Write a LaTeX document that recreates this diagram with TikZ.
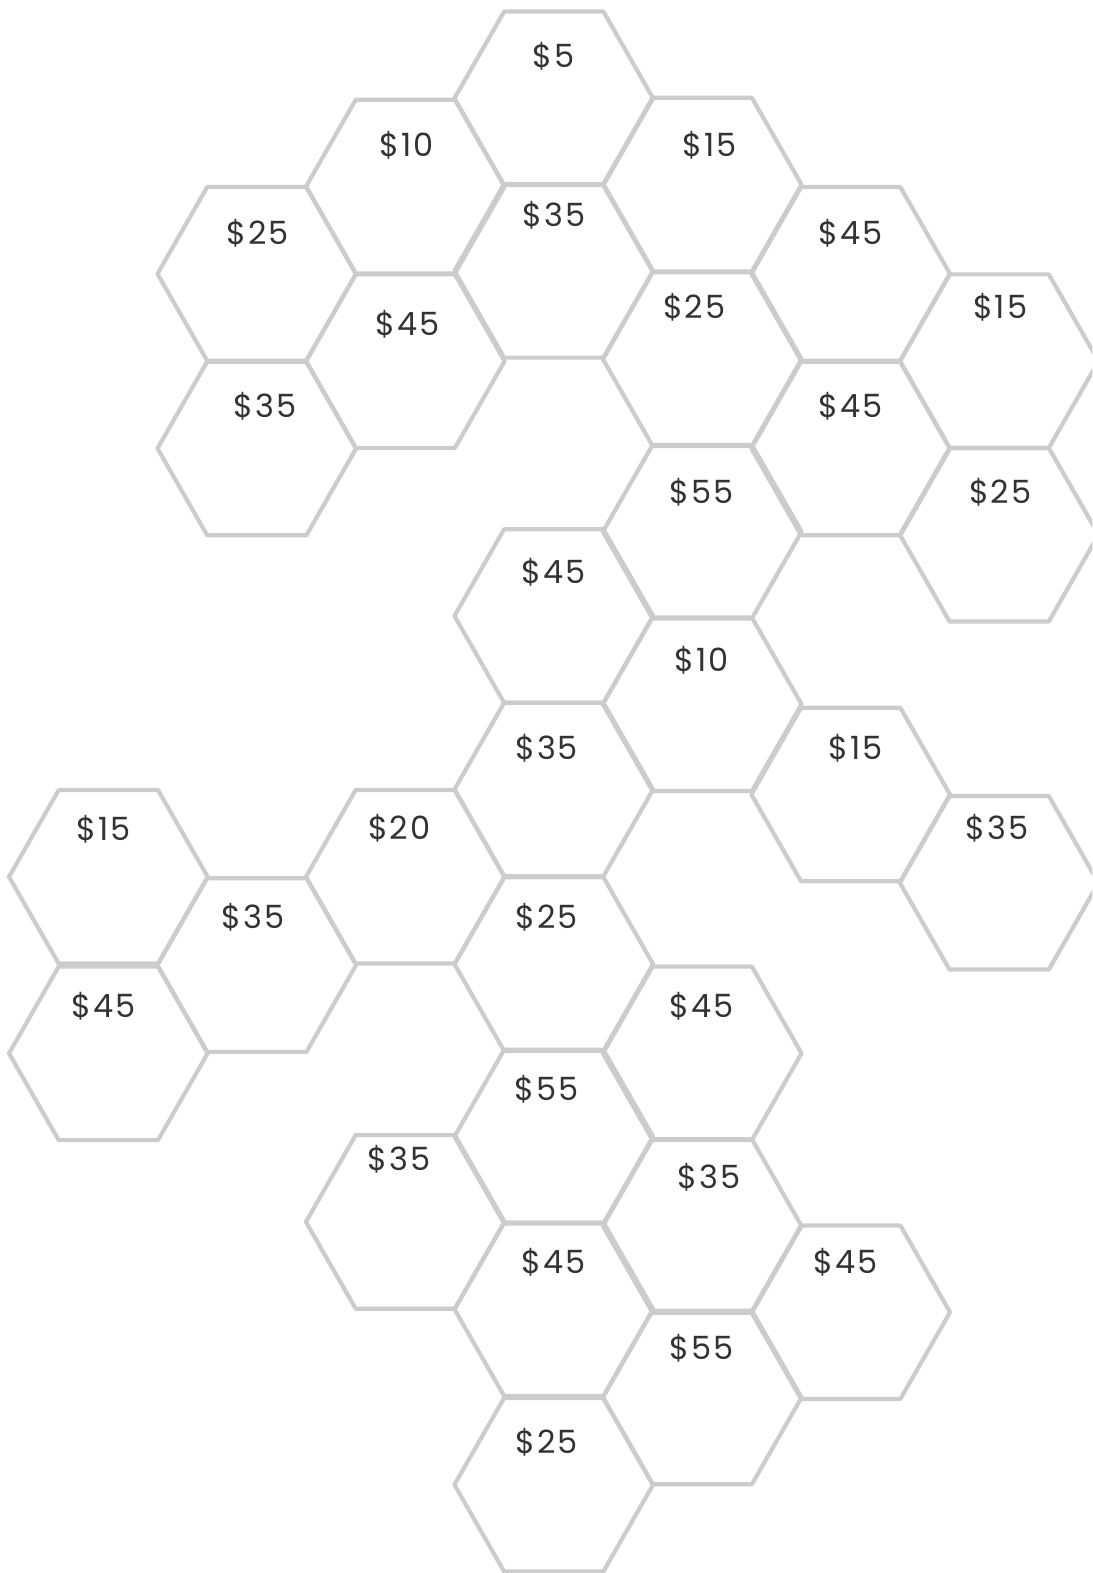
\documentclass[tikz,border=0pt]{standalone}
\usepackage{fontspec}
\setmainfont{Poppins}[LetterSpace=6]
\definecolor{hexline}{HTML}{CCCCCC}
\definecolor{pricetext}{HTML}{333333}
\tikzset{
  hexcell/.style={draw=hexline, line width=4.2pt, line join=round},
  pricelabel/.style={text=pricetext, font=\fontsize{32}{36}\selectfont, inner sep=0pt}
}
\begin{document}
\begin{tikzpicture}[x=1.00275pt,y=-1.00275pt]
\useasboundingbox (0,0) rectangle (1089,1568);
\clip (0,0) rectangle (1089,1568);
\foreach \cx/\cy/\lx/\ly/\t [count=\i] in {
 552/98/552/56/5,
 404/186/405/145/10,
 700/184/707/145/15,
 256/273/257/233/25,
 552/270/552/215/35,
 848/273/848/233/45,
 404/360/406/323/45,
 700/358/692/306/25,
 996/360/997/306/15,
 256/447/264/405/35,
 848/447/848/405/45,
 700/530/699/491/55,
 996/533/997/491/25,
 552/614/552/570/45,
 700/702/699/658/10,
 552/787/545/746/35,
 848/792/853/746/15,
 108/874/103/827/15,
 404/874/398/826/20,
 996/880/994/826/35,
 256/962/252/914/35,
 552/961/545/914/25,
 108/1050/103/1003/45,
 700/1050/699/1003/45,
 552/1133/545/1086/55,
 404/1218/398/1156/35,
 700/1222/707/1174/35,
 552/1305/552/1258/45,
 848/1308/843/1258/45,
 700/1393/699/1344/55,
 552/1480/545/1438/25}{
  \draw[hexcell] (\cx-99,\cy) -- (\cx-49.5,\cy-86.5) -- (\cx+49.5,\cy-86.5) -- (\cx+99,\cy) -- (\cx+49.5,\cy+86.5) -- (\cx-49.5,\cy+86.5) -- cycle;
  \node[pricelabel] (p\i) at (\lx,\ly) {\$\t};
}
\end{tikzpicture}
\end{document}
